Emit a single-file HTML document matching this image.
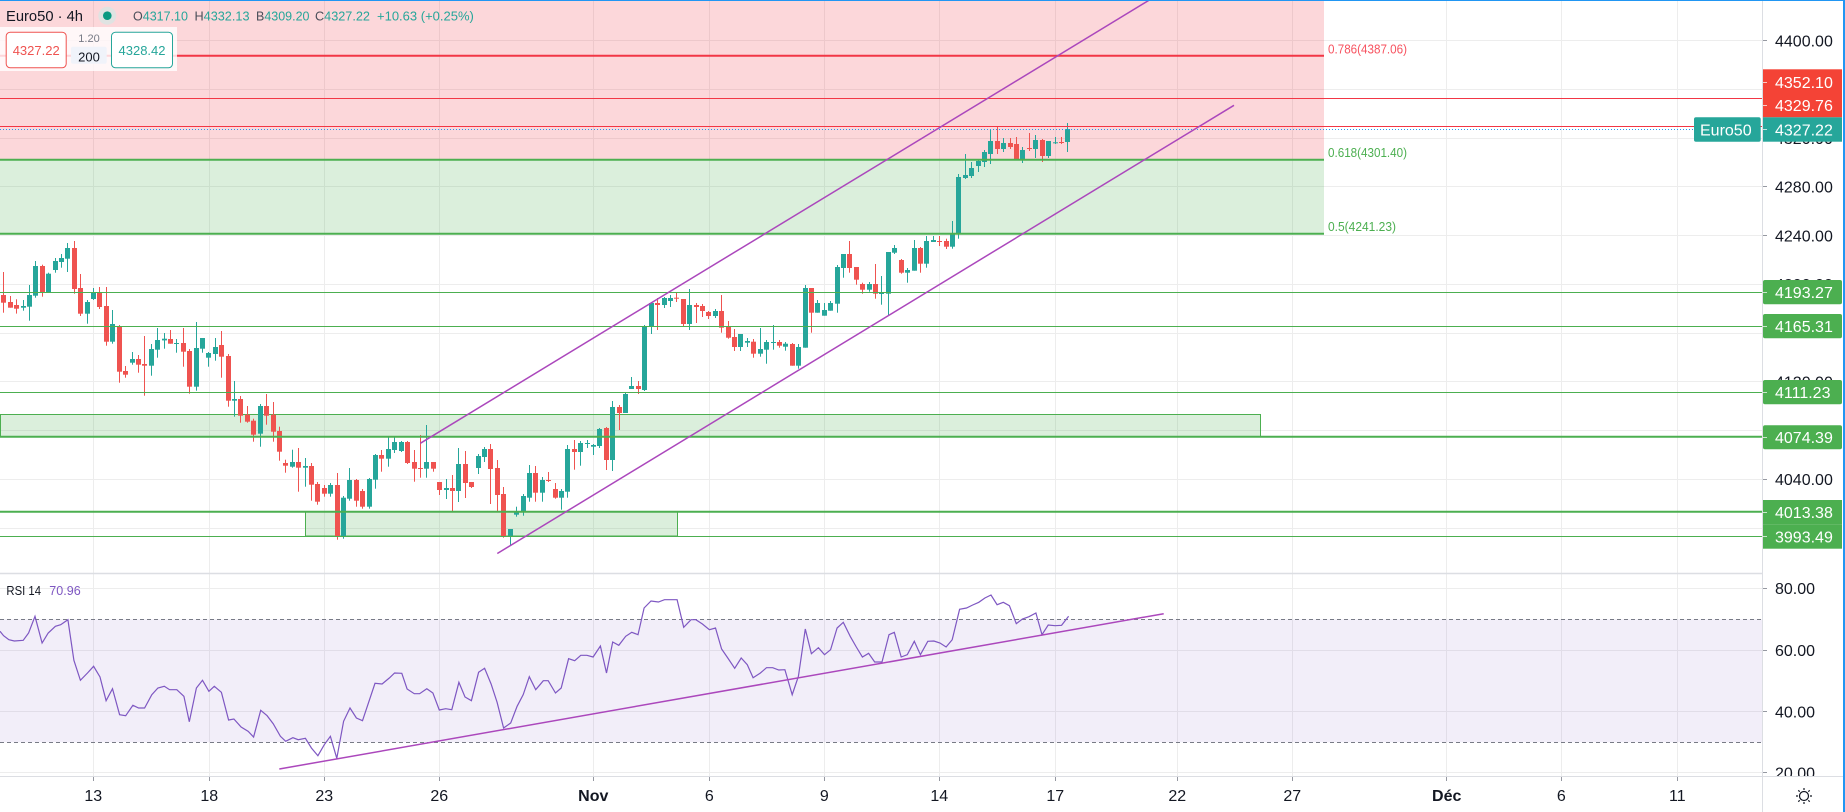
<!DOCTYPE html>
<html><head><meta charset="utf-8">
<style>
html,body{margin:0;padding:0;background:#fff;}
body{width:1845px;height:812px;overflow:hidden;}
svg{display:block;font-family:"Liberation Sans",sans-serif;}
</style></head><body>
<svg id="s" width="1845" height="812" viewBox="0 0 1845 812" xmlns="http://www.w3.org/2000/svg">
<defs>
<clipPath id="cm"><rect x="0" y="0" width="1762" height="573"/></clipPath>
<clipPath id="cr"><rect x="0" y="574" width="1762" height="202"/></clipPath>
<clipPath id="ca"><rect x="1763" y="0" width="82" height="776"/></clipPath>
</defs>
<rect width="1845" height="812" fill="#fff"/>

<!-- grid -->
<g stroke="#ededed" stroke-width="1">
<path d="M93.5 0V776M209.5 0V776M324.5 0V776M439.5 0V776M593.5 0V776M709.5 0V776M824.5 0V776M939.5 0V776M1055.5 0V776M1177.5 0V776M1292.5 0V776M1446.5 0V776M1561.5 0V776M1677.5 0V776"/>
<path d="M0 40.5H1762M0 89.5H1762M0 138.5H1762M0 186.5H1762M0 235.5H1762M0 284.5H1762M0 333.5H1762M0 381.5H1762M0 430.5H1762M0 479.5H1762M0 528.5H1762"/>
<path d="M0 588.5H1762M0 650.5H1762M0 711.5H1762M0 772.5H1762"/>
</g>

<g clip-path="url(#cm)">
<!-- fib zones -->
<rect x="0" y="0" width="1324" height="160" fill="rgba(242,54,69,0.2)"/>
<rect x="0" y="160" width="1324" height="73.7" fill="rgba(76,175,80,0.2)"/>
<!-- green boxes -->
<rect x="0.5" y="414.5" width="1260" height="22" fill="rgba(76,175,80,0.2)" stroke="#4caf50" stroke-width="1"/>
<rect x="305.5" y="511.5" width="372" height="24.5" fill="rgba(76,175,80,0.2)" stroke="#4caf50" stroke-width="1"/>

<g id="candles"></g>

<!-- fib lines -->
<line x1="0" y1="55.7" x2="1324" y2="55.7" stroke="#f23645" stroke-width="2"/>
<line x1="0" y1="159.7" x2="1324" y2="159.7" stroke="#4caf50" stroke-width="2"/>
<line x1="0" y1="233.7" x2="1324" y2="233.7" stroke="#4caf50" stroke-width="2"/>
<text x="1328" y="53.5" font-size="13" fill="#f7525f" textLength="79" lengthAdjust="spacingAndGlyphs">0.786(4387.06)</text>
<text x="1328" y="157" font-size="13" fill="#4caf50" textLength="79" lengthAdjust="spacingAndGlyphs">0.618(4301.40)</text>
<text x="1328" y="231" font-size="13" fill="#4caf50" textLength="68" lengthAdjust="spacingAndGlyphs">0.5(4241.23)</text>

<!-- horizontal lines -->
<line x1="0" y1="98.5" x2="1762" y2="98.5" stroke="#f23645" stroke-width="1"/>
<line x1="0" y1="126.5" x2="1762" y2="126.5" stroke="#f23645" stroke-width="1"/>
<line x1="0" y1="129.5" x2="1694" y2="129.5" stroke="#2196f3" stroke-width="1" stroke-dasharray="1 2"/>
<line x1="0" y1="292.5" x2="1762" y2="292.5" stroke="#4caf50" stroke-width="1"/>
<line x1="0" y1="326.5" x2="1762" y2="326.5" stroke="#4caf50" stroke-width="1"/>
<line x1="0" y1="392.5" x2="1762" y2="392.5" stroke="#4caf50" stroke-width="1"/>
<line x1="0" y1="436.7" x2="1762" y2="436.7" stroke="#4caf50" stroke-width="2"/>
<line x1="0" y1="511.7" x2="1762" y2="511.7" stroke="#4caf50" stroke-width="2"/>
<line x1="0" y1="536.5" x2="1762" y2="536.5" stroke="#4caf50" stroke-width="1"/>

<!-- channel -->
<line x1="420.3" y1="443.3" x2="1156" y2="-4" stroke="#ab47bc" stroke-width="1.5"/>
<line x1="497.3" y1="553.5" x2="1234" y2="105.3" stroke="#ab47bc" stroke-width="1.5"/>
</g>

<!-- header -->
<rect x="0" y="27" width="177" height="44" fill="rgba(255,255,255,0.8)"/>
<text x="6" y="21" font-size="15" fill="#131722" textLength="77" lengthAdjust="spacingAndGlyphs">Euro50 · 4h</text>
<circle cx="107.3" cy="15.7" r="9" fill="#dfe3e2"/>
<circle cx="107.3" cy="15.7" r="4.3" fill="#089981"/>
<g font-size="13">
<text x="133" y="20.5" fill="#26a69a" textLength="55" lengthAdjust="spacingAndGlyphs"><tspan fill="#4a4e59">O</tspan>4317.10</text>
<text x="194.5" y="20.5" fill="#26a69a" textLength="55" lengthAdjust="spacingAndGlyphs"><tspan fill="#4a4e59">H</tspan>4332.13</text>
<text x="256" y="20.5" fill="#26a69a" textLength="53.5" lengthAdjust="spacingAndGlyphs"><tspan fill="#4a4e59">B</tspan>4309.20</text>
<text x="315" y="20.5" fill="#26a69a" textLength="55" lengthAdjust="spacingAndGlyphs"><tspan fill="#4a4e59">C</tspan>4327.22</text>
<text x="377" y="20.5" fill="#26a69a">+10.63 (+0.25%)</text>
</g>
<rect x="6.2" y="32.2" width="60" height="35.6" rx="4" fill="#fff" stroke="#ef5350" stroke-width="1"/>
<text x="36.2" y="55" font-size="13" fill="#ef5350" text-anchor="middle">4327.22</text>
<text x="89" y="42" font-size="11" fill="#787b86" text-anchor="middle">1.20</text>
<rect x="71" y="46.7" width="35.7" height="17" rx="2" fill="#f0f3fa"/>
<text x="89" y="61.5" font-size="13" fill="#131722" text-anchor="middle">200</text>
<rect x="111.5" y="32.2" width="61" height="35.6" rx="4" fill="#fff" stroke="#26a69a" stroke-width="1"/>
<text x="142" y="55" font-size="13" fill="#26a69a" text-anchor="middle">4328.42</text>

<!-- RSI pane -->
<g clip-path="url(#cr)">
<rect x="0" y="619.3" width="1762" height="123" fill="rgba(126,87,194,0.1)"/>
<line x1="0" y1="619.5" x2="1762" y2="619.5" stroke="#787b86" stroke-width="1" stroke-dasharray="4 3"/>
<line x1="0" y1="742.5" x2="1762" y2="742.5" stroke="#787b86" stroke-width="1" stroke-dasharray="4 3"/>
<polyline id="rsi" fill="none" stroke="#7e57c2" stroke-width="1.2" points=""/>
<line x1="279.3" y1="769" x2="1163.7" y2="613.7" stroke="#ab47bc" stroke-width="1.5"/>
</g>
<text x="6.4" y="595" font-size="12.5" fill="#131722" textLength="34.6" lengthAdjust="spacingAndGlyphs">RSI 14</text>
<text x="49.3" y="595" font-size="12.5" fill="#7e57c2" textLength="31.4" lengthAdjust="spacingAndGlyphs">70.96</text>

<!-- separators -->
<line x1="0" y1="573.5" x2="1762" y2="573.5" stroke="#dcdee3" stroke-width="1.5"/>
<line x1="0" y1="776.5" x2="1845" y2="776.5" stroke="#dcdee3" stroke-width="1"/>
<line x1="1762.5" y1="0" x2="1762.5" y2="812" stroke="#dcdee3" stroke-width="1"/>

<!-- price axis -->
<g clip-path="url(#ca)">
<g font-size="16" fill="#131722">
<text x="1775" y="46.3">4400.00</text>
<text x="1775" y="143.8">4320.00</text>
<text x="1775" y="192.5">4280.00</text>
<text x="1775" y="241.3">4240.00</text>
<text x="1775" y="290">4200.00</text>
<text x="1775" y="387.5">4120.00</text>
<text x="1775" y="485">4040.00</text>
</g>
<g stroke="#9598a1" stroke-width="1">
<path d="M1763 40.5h4M1763 89.5h4M1763 138.5h4M1763 186.5h4M1763 235.5h4M1763 284.5h4M1763 333.5h4M1763 381.5h4M1763 430.5h4M1763 479.5h4M1763 528.5h4"/>
</g>
<!-- colored labels -->
<rect x="1763" y="69.3" width="79" height="24.2" fill="#f44336"/>
<rect x="1763" y="93.5" width="79" height="23.8" fill="#f44336"/>
<rect x="1763" y="117.3" width="79" height="24.4" fill="#26a69a"/>
<rect x="1763" y="280" width="79" height="24.3" rx="2" fill="#4caf50"/>
<rect x="1763" y="314" width="79" height="24.3" rx="2" fill="#4caf50"/>
<rect x="1763" y="380" width="79" height="24.3" rx="2" fill="#4caf50"/>
<rect x="1763" y="425.3" width="79" height="24" rx="2" fill="#4caf50"/>
<rect x="1763" y="500" width="79" height="24.3" fill="#4caf50"/>
<rect x="1763" y="524.3" width="79" height="24.4" fill="#4caf50"/>
<g stroke="rgba(255,255,255,0.7)" stroke-width="1">
<path d="M1763 82.5h4M1763 105.5h4M1763 129.5h4M1763 292.5h4M1763 326.5h4M1763 392.5h4M1763 437.5h4M1763 512.5h4M1763 536.5h4"/>
</g>
<g font-size="16" fill="#fff">
<text x="1775" y="87.8">4352.10</text>
<text x="1775" y="111.2">4329.76</text>
<text x="1775" y="135.3">4327.22</text>
<text x="1775" y="298">4193.27</text>
<text x="1775" y="332">4165.31</text>
<text x="1775" y="398">4111.23</text>
<text x="1775" y="443.1">4074.39</text>
<text x="1775" y="518">4013.38</text>
<text x="1775" y="542.3">3993.49</text>
</g>
<!-- RSI axis -->
<g font-size="16" fill="#131722">
<text x="1775" y="594">80.00</text>
<text x="1775" y="655.8">60.00</text>
<text x="1775" y="717.5">40.00</text>
<text x="1775" y="778.5">20.00</text>
</g>
<g stroke="#9598a1" stroke-width="1"><path d="M1763 588.5h4M1763 650.5h4M1763 711.5h4M1763 772.5h4"/></g>
</g>
<rect x="1694" y="117.3" width="66.7" height="24.4" rx="2" fill="#26a69a"/>
<text x="1700" y="135.3" font-size="16" fill="#fff">Euro50</text>

<!-- time axis -->
<g stroke="#9598a1" stroke-width="1"><path d="M93.5 777v4M209.5 777v4M324.5 777v4M439.5 777v4M593.5 777v4M709.5 777v4M824.5 777v4M939.5 777v4M1055.5 777v4M1177.5 777v4M1292.5 777v4M1446.5 777v4M1561.5 777v4M1677.5 777v4"/></g>
<g font-size="16" fill="#131722" text-anchor="middle">
<text x="93.3" y="801">13</text>
<text x="209.3" y="801">18</text>
<text x="324.3" y="801">23</text>
<text x="439.3" y="801">26</text>
<text x="593.3" y="801" font-weight="bold">Nov</text>
<text x="709.3" y="801">6</text>
<text x="824.3" y="801">9</text>
<text x="939.3" y="801">14</text>
<text x="1055.3" y="801">17</text>
<text x="1177.3" y="801">22</text>
<text x="1292.3" y="801">27</text>
<text x="1446.7" y="801" font-weight="bold">Déc</text>
<text x="1561.3" y="801">6</text>
<text x="1677.3" y="801">11</text>
</g>
<!-- settings icon -->
<g stroke="#131722" stroke-width="1.2" fill="none">
<circle cx="1804" cy="796" r="4.5"/>
<path d="M1804 788v2M1804 802v2M1796 796h2M1810 796h2M1798.3 790.3l1.4 1.4M1808.3 800.3l1.4 1.4M1809.7 790.3l-1.4 1.4M1799.7 800.3l-1.4 1.4"/>
</g>

<!-- borders -->
<line x1="0" y1="0.5" x2="1845" y2="0.5" stroke="#2196f3" stroke-width="1"/>
<line x1="1844" y1="0" x2="1844" y2="812" stroke="#2196f3" stroke-width="2"/>
</svg>
<script>
(function(){
var d7=[['r',195,218,126,248],['r',216,233,198,233],['r',225,236,208,251],['g',228,233,210,242],['g',195,230,165,272],['g',108,197,93,203],['r',108,186,104,200],['g',131,186,128,186],['g',93,120,84,128],['g',84,96,72,113],['g',54,86,39,126],['r',54,177,33,191],['r',174,251,132,258],['g',216,251,210,281],['g',187,207,174,210],['r',187,231,171,237],['r',228,335,171,347],['g',282,335,240,341],['r',288,425,285,458],['r',423,434,408,443],['g',387,398,366,404],['r',387,404,375,428],['r',402,407,318,497],['g',357,407,342,437],['g',330,359,294,383],['g',326,331,309,356],['r',327,341,300,341],['g',339,341,327,368],['r',339,365,294,410],['r',363,470,357,491],['g',354,470,276,482],['g',324,356,324,368],['g',369,383,366,410],['g',351,372,324,392],['r',345,380,303,443],['r',378,512,372,530],['g',507,512,453,560],['r',507,557,498,578],['r',554,575,528,578],['r',572,614,566,635],['g',528,611,522,650],['r',528,557,492,584],['r',554,605,516,635],['r',603,665,590,692],['r',699,707,689,728],['g',696,710,659,713],['r',696,713,654,785],['g',708,713,684,770],['r',708,764,699,812],['r',762,815,756,824],['r',774,791,765,800],['g',765,791,759,800],['r',765,919,729,929],['g',803,919,798,926],['g',750,806,714,812],['r',750,812,747,830],['r',783,830,777,836],['g',747,830,744,836],['g',675,749,672,776]];
var d8=[['r',660,671,645,710],['g',642,671,606,695],['g',621,645,606,654],['g',621,648,618,651],['r',621,684,618,687],['r',681,701,645,740],['r',699,701,600,728],['g',681,701,570,728],['r',681,701,681,710],['r',741,765,741,780],['g',759,765,732,792],['r',759,768,720,828],['g',687,768,639,801],['r',687,744,648,789],['r',741,756,741,759],['g',663,699,657,717],['g',642,666,636,681],['r',642,702,627,807],['r',699,780,675,828],['r',777,905,756,908],['g',882,902,882,932],['g',830,839,815,845],['g',783,830,777,842],['g',714,788,690,800],['r',714,773,693,800],['g',735,773,726,800],['r',735,738,711,741],['r',762,788,744,791],['g',768,788,762,824],['g',642,770,630,788],['r',642,651,615,704],['g',624,651,618,692],['g',624,627,615,639],['g',630,635,627,660],['g',582,633,579,639],['r',579,675,576,705],['g',516,675,498,708],['r',516,534,510,585],['g',477,534,474,534],['g',453,462,426,462],['r',453,462,438,477],['g',273,465,270,468],['g',204,275,201,297],['r',204,210,189,285],['g',189,210,186,219],['g',189,198,180,216],['r',188,190,174,201],['r',192,267,192,273],['g',210,267,162,285],['r',210,216,204,264],['r',213,228,207,246],['r',231,243,228,252],['g',228,243,222,249],['r',228,278,180,293],['r',276,308,258,311],['r',306,336,282,348],['g',297,336,297,348],['g',318,323,309,336]];
var d9=[['r',740,776,732,788],['g',762,776,699,785],['g',741,764,735,806],['g',741,744,690,764],['r',741,752,735,758],['g',746,755,741,767],['r',747,812,744,812],['g',756,812,747,821],['g',579,758,570,758],['r',579,653,579,713],['g',624,653,615,653],['g',645,662,624,662],['g',624,647,618,647],['g',516,626,510,653],['g',477,519,477,548],['r',477,519,438,533],['r',516,554,516,569],['r',567,584,563,596],['g',567,584,561,590],['r',567,596,507,611],['g',594,596,543,629],['g',471,596,471,660],['g',459,473,450,477],['r',495,533,492,536],['g',525,533,519,563],['g',459,527,435,527],['r',459,506,456,533],['g',438,506,423,518],['g',435,441,423,441],['r',438,440,423,453],['r',438,455,431,462],['g',414,455,378,461],['g',246,416,237,431],['g',240,249,177,252],['g',219,243,201,249],['g',198,213,195,231],['g',171,201,165,216],['g',138,177,102,207],['r',138,162,96,177],['g',144,162,129,171],['r',144,156,129,162],['r',147,192,126,192],['g',165,192,156,204],['r',159,161,114,168],['g',135,162,120,189],['r',135,183,132,201],['g',138,183,138,189],['g',142,145,126,147],['r',141,144,126,147],['g',102,141,84,171]];
var s='';
function add(arr,base,start){
  for(var j=0;j<arr.length;j++){
    var c=arr[j],i=start+j;
    var cx=Math.round(3.3+6.41*i);
    var col=c[0]=='g'?'#26a69a':'#ef5350';
    var bt=base+c[1]/3,bb=base+c[2]/3,wt=base+c[3]/3,wb=base+c[4]/3;
    var top=Math.min(wt,bt),bot=Math.max(wb,bb);
    s+='<rect x="'+cx+'" y="'+top.toFixed(1)+'" width="1" height="'+(bot-top).toFixed(1)+'" fill="'+col+'"/>';
    var h=Math.max(1,bb-bt);
    s+='<rect x="'+(cx-2)+'" y="'+bt.toFixed(1)+'" width="5" height="'+h.toFixed(1)+'" fill="'+col+'"/>';
  }
}
add(d7,230,0);add(d8,235,59);add(d9,95,117);
document.getElementById('candles').innerHTML=s;

var r10=[[0,175],[10,188],[25,200],[40,204],[65,202],[80,180],[98,130],[118,210],[135,180],[155,160],[170,155],[190,140],[207,262],[225,322],[245,300],[262,280],[280,312],[297,383],[315,347],[335,425],[352,428],[372,397],[388,405],[405,405],[425,365],[442,345],[460,340],[475,350],[495,350],[515,370],[530,446],[550,345],[567,322],[585,355],[600,340],[620,358],[640,441],[655,438],[675,462],[695,475],[710,492],[730,412],[748,428],[765,452],[785,490],[800,505],[820,494],[835,500],[855,496],[872,525],[890,548],[908,515],[925,490],[943,556],[962,445],[980,405],[998,435],[1015,443],[1050,331],[1070,333],[1090,315],[1105,300],[1125,301],[1140,348],[1160,362],[1175,362],[1195,347],[1212,360],[1230,411],[1248,407],[1265,410],[1285,328],[1302,372],[1320,383],[1340,298],[1357,286],[1375,333],[1392,388],[1410,465],[1430,450],[1448,400],[1465,365],[1482,311],[1500,350]];
var r11=[[0,335],[8,323],[20,323],[38,360],[52,345],[70,257],[85,263],[100,247],[115,247],[130,252],[148,219],[163,300],[178,207],[193,217],[210,190],[225,178],[240,185],[255,105],[272,84],[290,87],[305,80],[320,80],[336,80],[352,163],[370,140],[382,140],[398,153],[415,170],[430,165],[445,228],[460,255],[477,286],[493,255],[508,275],[522,314],[540,300],[555,284],[570,284],[585,291],[600,290],[618,365],[633,310],[650,168],[665,242],[682,224],[697,245],[712,230],[728,165],[743,148],[760,190],[775,222],[790,252],[805,241],[820,267],[838,267],[855,185],[868,178],[885,252],[900,245],[917,205],[932,245],[950,205],[965,204],[980,210],[995,222],[1010,200],[1028,109],[1045,105],[1060,96],[1075,88],[1090,75],[1105,66],[1120,95],[1135,88],[1150,98],[1167,152],[1182,138],[1198,131],[1215,120],[1230,185],[1245,156],[1262,158],[1278,157],[1295,130]];
var p=[];
r10.forEach(function(a){p.push((a[0]/2.8).toFixed(1)+','+(573+a[1]/3).toFixed(1));});
r11.forEach(function(a){p.push((540+a[0]/2.45).toFixed(1)+','+(573+a[1]/3).toFixed(1));});
document.getElementById('rsi').setAttribute('points',p.join(' '));
})();
</script>
</body></html>
